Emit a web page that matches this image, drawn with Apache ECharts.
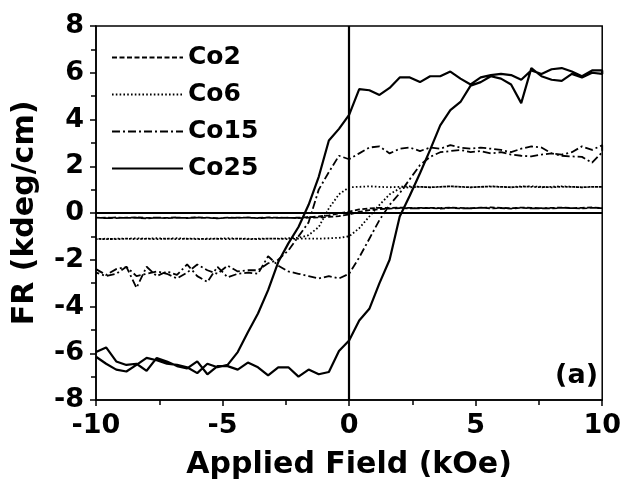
<!DOCTYPE html>
<html><head><meta charset="utf-8">
<script src="https://cdn.jsdelivr.net/npm/echarts@6/dist/echarts.min.js"></script>
<style>html,body{margin:0;padding:0;background:#fff}#c{width:624px;height:485px}</style>
</head><body><div id="c"></div>
<script>
const field = [-10,-9.6,-9.2,-8.8,-8.4,-8,-7.6,-7.2,-6.8,-6.4,
  -6,-5.6,-5.2,-4.8,-4.4,-4,-3.6,-3.2,-2.8,-2.4,
  -2,-1.6,-1.2,-0.8,-0.4,0,0.4,0.8,1.2,1.6,
  2,2.4,2.8,3.2,3.6,4,4.4,4.8,5.2,5.6,
  6,6.4,6.8,7.2,7.6,8,8.4,8.8,9.2,9.6,
  10];

const co25Up = [-5.95,-5.75,-6.35,-6.5,-6.45,-6.75,-6.2,-6.35,-6.55,-6.65,
  -6.35,-6.9,-6.55,-6.55,-6.7,-6.4,-6.6,-6.95,-6.6,-6.6,
  -7.0,-6.7,-6.9,-6.8,-5.9,-5.45,-4.6,-4.1,-3.0,-2.0,
  -0.15,0.75,1.7,2.7,3.75,4.4,4.75,5.45,5.6,5.85,
  5.75,5.5,4.7,6.2,5.85,5.7,5.65,5.95,5.8,6.0,
  5.95];
const co25Down = [-6.15,-6.45,-6.7,-6.78,-6.5,-6.2,-6.3,-6.45,-6.5,-6.6,
  -6.85,-6.45,-6.6,-6.5,-5.95,-5.1,-4.3,-3.3,-2.1,-1.3,
  -0.6,0.35,1.55,3.1,3.6,4.2,5.3,5.25,5.05,5.35,
  5.8,5.8,5.6,5.85,5.85,6.05,5.75,5.5,5.8,5.9,
  5.95,5.9,5.7,6.1,5.95,6.15,6.2,6.05,5.85,6.1,
  6.1];

const co15Up = [-2.4,-2.65,-2.4,-2.3,-3.2,-2.3,-2.7,-2.5,-2.65,-2.2,
  -2.7,-2.95,-2.3,-2.75,-2.6,-2.55,-2.6,-1.85,-2.25,-2.5,
  -2.6,-2.7,-2.8,-2.7,-2.8,-2.6,-1.9,-1.1,-0.3,0.35,
  0.85,1.45,2.05,2.4,2.6,2.65,2.7,2.6,2.65,2.55,
  2.6,2.5,2.45,2.42,2.5,2.55,2.45,2.42,2.4,2.15,
  2.6];
const co15Down = [-2.55,-2.7,-2.6,-2.3,-2.7,-2.6,-2.5,-2.6,-2.8,-2.55,
  -2.2,-2.45,-2.6,-2.25,-2.5,-2.45,-2.45,-2.15,-2.0,-1.6,
  -1.0,-0.4,1.0,1.75,2.45,2.3,2.55,2.8,2.85,2.55,
  2.75,2.8,2.65,2.8,2.75,2.9,2.8,2.75,2.8,2.75,
  2.7,2.6,2.75,2.85,2.8,2.55,2.5,2.6,2.85,2.7,
  2.9];

const co6Up = [-1.12,-1.1,-1.12,-1.1,-1.08,-1.1,-1.12,-1.1,-1.08,-1.1,
  -1.12,-1.1,-1.1,-1.12,-1.1,-1.1,-1.12,-1.1,-1.1,-1.12,
  -1.1,-1.1,-1.1,-1.08,-1.06,-1.0,-0.65,-0.15,0.35,0.8,
  1.05,1.1,1.12,1.1,1.12,1.14,1.12,1.1,1.12,1.13,
  1.12,1.1,1.12,1.14,1.12,1.1,1.12,1.12,1.1,1.12,
  1.12];
const co6Down = [-1.1,-1.12,-1.1,-1.1,-1.12,-1.1,-1.08,-1.1,-1.12,-1.1,
  -1.1,-1.12,-1.1,-1.08,-1.1,-1.12,-1.1,-1.1,-1.1,-1.08,
  -1.06,-0.95,-0.6,0.2,0.8,1.1,1.12,1.14,1.12,1.1,
  1.12,1.14,1.12,1.1,1.12,1.14,1.12,1.1,1.12,1.14,
  1.12,1.1,1.14,1.12,1.1,1.12,1.14,1.12,1.1,1.12,
  1.14];

const co2Up = [-0.2,-0.22,-0.19,-0.21,-0.2,-0.23,-0.2,-0.21,-0.19,-0.22,
  -0.2,-0.21,-0.23,-0.2,-0.21,-0.19,-0.22,-0.2,-0.21,-0.2,
  -0.22,-0.2,-0.19,-0.17,-0.13,-0.06,0.05,0.12,0.17,0.19,
  0.21,0.2,0.22,0.21,0.19,0.22,0.2,0.21,0.23,0.2,
  0.21,0.19,0.22,0.2,0.21,0.2,0.22,0.21,0.2,0.22,
  0.21];
const co2Down = [-0.21,-0.2,-0.22,-0.2,-0.19,-0.21,-0.2,-0.22,-0.2,-0.21,
  -0.19,-0.2,-0.22,-0.21,-0.2,-0.2,-0.21,-0.19,-0.2,-0.21,
  -0.2,-0.18,-0.15,-0.1,-0.02,0.06,0.15,0.2,0.22,0.21,
  0.23,0.22,0.2,0.22,0.21,0.23,0.22,0.2,0.22,0.24,
  0.22,0.21,0.23,0.22,0.2,0.22,0.23,0.21,0.22,0.24,
  0.23];

const seriesNames = ['Co2', 'Co6', 'Co15', 'Co25'];
const panelLabel = '(a)';
const xTitle = 'Applied Field (kOe)';
const yTitle = 'FR (kdeg/cm)';

function loop(up, down) {
  const d = field.map((x, i) => [x, up[i]]);
  for (let i = field.length - 1; i >= 0; i--) d.push([field[i], down[i]]);
  return d;
}

const FONT = 'DejaVu Sans';
const chart = echarts.init(document.getElementById('c'), null, {renderer: 'canvas'});

function mkSeries(name, data, type, width, z) {
  return {
    name: name, type: 'line', data: data, symbol: 'none', showSymbol: false,
    smooth: false, animation: false, z: z,
    lineStyle: {color: '#000', width: width, type: type},
    itemStyle: {color: '#000'},
    emphasis: {disabled: true}
  };
}

const series = [
  mkSeries(seriesNames[0], loop(co2Up, co2Down), [5, 2.5], 1.8, 3),
  mkSeries(seriesNames[1], loop(co6Up, co6Down), [1.6, 2.2], 1.8, 3),
  mkSeries(seriesNames[2], loop(co15Up, co15Down), [8, 3, 2, 3], 1.8, 3),
  mkSeries(seriesNames[3], loop(co25Up, co25Down), 'solid', 2.2, 4)
];
series[3].markLine = {
  silent: true, animation: false, symbol: ['none', 'none'],
  label: {show: false},
  lineStyle: {color: '#000', type: 'solid', width: 2.2},
  emphasis: {disabled: true},
  data: [{xAxis: 0}, {yAxis: 0}]
};

const axisCommon = {
  axisLine: {onZero: false, lineStyle: {color: '#000', width: 1.5}},
  axisTick: {inside: false, length: 6, lineStyle: {color: '#000', width: 1.5}},
  minorTick: {show: true, splitNumber: 2, length: 5, lineStyle: {color: '#000', width: 1.5}},
  splitLine: {show: false},
  minorSplitLine: {show: false}
};

chart.setOption({
  backgroundColor: '#fff',
  animation: false,
  grid: {left: 96, right: 19, top: 26, bottom: 83, show: true, borderColor: '#000', borderWidth: 1.5, backgroundColor: 'transparent'},
  legend: {
    show: true, orient: 'vertical', left: 106, top: 40,
    itemWidth: 71, itemHeight: 14, itemGap: 12,
    data: seriesNames,
    itemStyle: {color: 'transparent', borderColor: 'transparent', borderWidth: 0, opacity: 0},
    textStyle: {fontFamily: FONT, fontWeight: 'bold', fontSize: 25, color: '#000', lineHeight: 25},
    selectedMode: false
  },
  xAxis: Object.assign({
    type: 'value', min: -10, max: 10, interval: 5,
    name: xTitle, nameLocation: 'middle', nameGap: 50,
    nameTextStyle: {fontFamily: FONT, fontWeight: 'bold', fontSize: 30, color: '#000'},
    axisLabel: {fontFamily: FONT, fontWeight: 'bold', fontSize: 27, color: '#000', margin: 12}
  }, axisCommon),
  yAxis: Object.assign({
    type: 'value', min: -8, max: 8, interval: 2,
    name: yTitle, nameLocation: 'middle', nameGap: 56,
    nameTextStyle: {fontFamily: FONT, fontWeight: 'bold', fontSize: 30, color: '#000'},
    axisLabel: {fontFamily: FONT, fontWeight: 'bold', fontSize: 27, color: '#000', margin: 12}
  }, axisCommon),
  graphic: [{
    type: 'text', right: 26, top: 362, z: 10,
    style: {text: panelLabel, font: 'bold 27px "DejaVu Sans"', fill: '#000'}
  }],
  series: series
});
</script>
</body></html>
